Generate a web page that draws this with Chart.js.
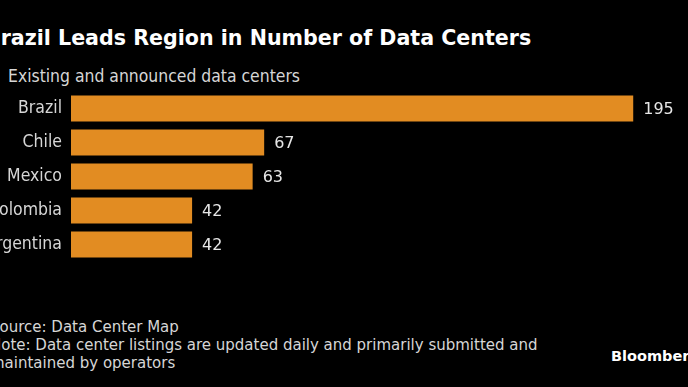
<!DOCTYPE html>
<html>
<head>
<meta charset="utf-8">
<script src="https://cdn.jsdelivr.net/npm/chart.js@4/dist/chart.umd.min.js"></script>
<style>
  html, body { margin: 0; padding: 0; background: #000; }
  body { width: 688px; height: 387px; position: relative; overflow: hidden; font-family: "DejaVu Sans", sans-serif; }
  .txt { position: absolute; white-space: nowrap; color: #d6d6d6; }
  #title { left: -15px; top: 26px; font-weight: bold; font-size: 20.6px; color: #fff; }
  #subtitle { left: 8px; top: 66px; font-family: "DejaVu Sans Condensed", "DejaVu Sans", sans-serif; font-size: 17.4px; }
  #notes { left: -10px; top: 318px; font-size: 15px; line-height: 18px; }
  #brand { left: 611px; top: 348px; font-weight: bold; font-size: 14.5px; color: #fff; }
  #myChart { position: absolute; left: -40px; top: 72px; }
</style>
</head>
<body>
<div class="txt" id="title">Brazil Leads Region in Number of Data Centers</div>
<div class="txt" id="subtitle">Existing and announced data centers</div>
<div class="txt" id="notes">Source: Data Center Map<br>Note: Data center listings are updated daily and primarily submitted and<br>maintained by operators</div>
<div class="txt" id="brand">Bloomberg</div>
<canvas id="myChart" width="728" height="209"></canvas>
<script>
const countries = ['Brazil', 'Chile', 'Mexico', 'Colombia', 'Argentina'];
const dataCenters = [195, 67, 63, 42, 42];

document.addEventListener("DOMContentLoaded", function() {
    // value labels at the end of each bar
    const endLabels = {
        id: 'endLabels',
        afterDatasetsDraw(chart) {
            const ctx = chart.ctx;
            const meta = chart.getDatasetMeta(0);
            ctx.save();
            ctx.font = '16px "DejaVu Sans", sans-serif';
            ctx.fillStyle = '#e6e6e6';
            ctx.textAlign = 'left';
            ctx.textBaseline = 'middle';
            meta.data.forEach((bar, i) => {
                ctx.fillText(dataCenters[i], bar.x + 10, bar.y + 1);
            });
            ctx.restore();
        }
    };

    const config = {
        type: 'bar',
        data: {
            labels: countries,
            datasets: [{
                data: dataCenters,
                backgroundColor: '#e28c22',
                borderWidth: 0,
                barPercentage: 1,
                categoryPercentage: 0.76,
            }]
        },
        options: {
            indexAxis: 'y',
            responsive: false,
            animation: false,
            layout: { padding: { top: 5, bottom: 4, right: 0 } },
            scales: {
                x: { display: false, min: 0, max: 214 },
                y: {
                    grid: { display: false, drawTicks: false },
                    border: { display: false },
                    ticks: {
                        color: '#d6d6d6',
                        padding: 9,
                        font: { size: 17.5, family: '"DejaVu Sans Condensed", "DejaVu Sans", sans-serif' }
                    },
                    afterFit: function(scale) { scale.width = 111; }
                }
            },
            plugins: {
                legend: { display: false },
                tooltip: { enabled: false },
            },
        },
        plugins: [endLabels],
    };

    new Chart(document.getElementById('myChart').getContext('2d'), config);
});
</script>
</body>
</html>
